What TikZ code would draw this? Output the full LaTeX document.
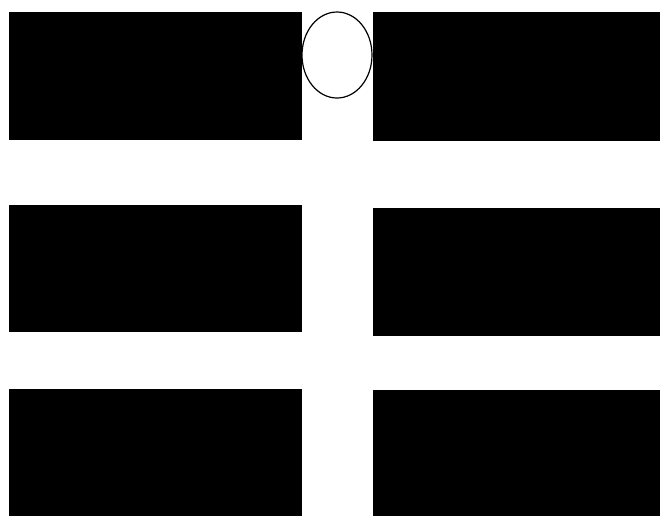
\documentclass[tikz,border=0pt]{standalone}
\usepackage{tikz}
\begin{document}
\begin{tikzpicture}[x=0.5pt, y=-0.5pt,
    bar/.style={fill=black},
    ring/.style={draw=black, line width=0.6pt, fill=white}
]
\useasboundingbox (0,0) rectangle (660,516);
% broken lines, left and right halves
\fill[bar] (9,12) rectangle (302,140);
\fill[bar] (373,12) rectangle (660,141);
\fill[bar] (9,205) rectangle (302,332);
\fill[bar] (373,208) rectangle (660,336);
\fill[bar] (9,389) rectangle (302,516);
\fill[bar] (373,390) rectangle (660,516);
% the circle in the top gap
\draw[ring] (337,55) ellipse [x radius=35, y radius=43];
\end{tikzpicture}
\end{document}
